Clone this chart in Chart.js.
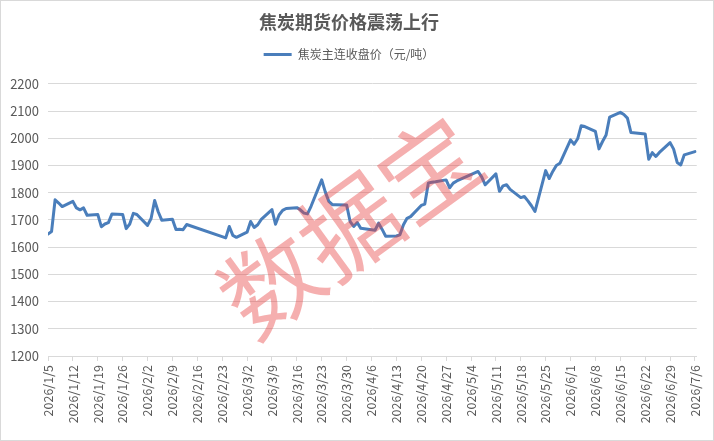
<!DOCTYPE html>
<html>
<head>
<meta charset="utf-8">
<script src="https://cdn.jsdelivr.net/npm/chart.js@4/dist/chart.umd.min.js"></script>
<style>
    html, body { margin: 0; padding: 0; background: #ffffff; }
    #wrap { width: 714px; height: 441px; }
</style>
</head>
<body>
<div id="wrap"><canvas id="CokePriceChart" width="714" height="441"></canvas></div>
<script>
// trading days (2026) and closing price of the coke main contract
var TradeDates = [
    '1/5', '1/6', '1/7', '1/8', '1/9', '1/12', '1/13', '1/14', '1/15', '1/16',
    '1/19', '1/20', '1/21', '1/22', '1/23', '1/26', '1/27', '1/28', '1/29', '1/30',
    '2/2', '2/3', '2/4', '2/5', '2/6', '2/9', '2/10', '2/11', '2/12', '2/13',
    '2/24', '2/25', '2/26', '2/27',
    '3/2', '3/3', '3/4', '3/5', '3/6', '3/9', '3/10', '3/11', '3/12', '3/13',
    '3/16', '3/17', '3/18', '3/19', '3/20', '3/23', '3/24', '3/25', '3/26', '3/27',
    '3/30', '3/31', '4/1', '4/2', '4/3',
    '4/7', '4/8', '4/9', '4/10', '4/13', '4/14', '4/15', '4/16', '4/17',
    '4/20', '4/21', '4/22', '4/23', '4/24', '4/27', '4/28', '4/29', '4/30',
    '5/6', '5/7', '5/8', '5/11', '5/12', '5/13', '5/14', '5/15',
    '5/18', '5/19', '5/20', '5/21', '5/22', '5/25', '5/26', '5/27', '5/28', '5/29',
    '6/1', '6/2', '6/3', '6/4', '6/5', '6/8', '6/9', '6/10', '6/11', '6/12',
    '6/15', '6/16', '6/17', '6/18', '6/22', '6/23', '6/24', '6/25', '6/26',
    '6/29', '6/30', '7/1', '7/2', '7/3', '7/6'
];
var ClosePrices = [
    1648, 1657, 1774, 1762, 1749, 1768, 1744, 1737, 1744, 1717,
    1720, 1675, 1685, 1690, 1722, 1720, 1668, 1685, 1724, 1720,
    1680, 1705, 1771, 1730, 1699, 1702, 1665, 1666, 1664, 1683,
    1634, 1676, 1643, 1636,
    1655, 1694, 1672, 1682, 1702, 1738, 1684, 1718, 1735, 1742,
    1745, 1737, 1725, 1722, 1750, 1847, 1803, 1768, 1756, 1756,
    1755, 1694, 1676, 1690, 1669,
    1662, 1688, 1665, 1640, 1641, 1645, 1682, 1706, 1712,
    1753, 1758, 1836, 1838, 1840, 1847, 1818, 1835, 1843,
    1878, 1858, 1829, 1869, 1805, 1825, 1829, 1812,
    1782, 1786, 1770, 1752, 1731, 1881, 1852, 1878, 1900, 1908,
    1994, 1978, 1998, 2046, 2043, 2025, 1961, 1988, 2012, 2078,
    2095, 2087, 2074, 2021, 2016, 1923, 1947, 1933, 1948,
    1984, 1960, 1911, 1902, 1939, 1951
];
var XTickLabels = [
    '2026/1/5', '2026/1/12', '2026/1/19', '2026/1/26', '2026/2/2', '2026/2/9', '2026/2/16',
    '2026/2/23', '2026/3/2', '2026/3/9', '2026/3/16', '2026/3/23', '2026/3/30', '2026/4/6',
    '2026/4/13', '2026/4/20', '2026/4/27', '2026/5/4', '2026/5/11', '2026/5/18', '2026/5/25',
    '2026/6/1', '2026/6/8', '2026/6/15', '2026/6/22', '2026/6/29', '2026/7/6'
];
var YTicks = [1200, 1300, 1400, 1500, 1600, 1700, 1800, 1900, 2000, 2100, 2200];

var StartDay = Date.UTC(2026, 0, 5);
function DayOffset(md) {
    var p = md.split('/');
    return (Date.UTC(2026, parseInt(p[0]) - 1, parseInt(p[1])) - StartDay) / 86400000;
}
var Points = TradeDates.map(function (d, i) {
    return { x: DayOffset(d), y: ClosePrices[i] };
});

var FontFamily = '"Noto Sans CJK SC", "Noto Sans", sans-serif';
var TextColor = '#595959';
var GridColor = '#d9d9d9';

// white background, outer frame and the red watermark
var FramePlugin = {
    id: 'frame',
    beforeDraw: function (chart) {
        var ctx = chart.ctx;
        ctx.save();
        ctx.fillStyle = '#ffffff';
        ctx.fillRect(0, 0, chart.width, chart.height);
        ctx.restore();
    },
    afterDraw: function (chart) {
        var ctx = chart.ctx;
        ctx.save();
        ctx.translate(350, 226);
        ctx.rotate(-36 * Math.PI / 180);
        ctx.font = '400 98px ' + FontFamily;
        ctx.fillStyle = 'rgba(232, 64, 64, 0.42)';
        ctx.textAlign = 'center';
        ctx.textBaseline = 'middle';
        ctx.fillText('数据宝', 0, 0);
        ctx.restore();

        ctx.save();
        ctx.strokeStyle = GridColor;
        ctx.lineWidth = 1;
        ctx.strokeRect(0.5, 0.5, chart.width - 1, chart.height - 1);
        ctx.restore();
    }
};

var CokeChart = document.getElementById('CokePriceChart').getContext('2d');
new Chart(CokeChart, {
    type: 'line',
    data: {
        datasets: [
            {
                label: '焦炭主连收盘价（元/吨）',
                data: Points,
                borderColor: '#4a7ebb',
                backgroundColor: '#4a7ebb',
                borderWidth: 3,
                borderJoinStyle: 'round',
                borderCapStyle: 'round',
                pointRadius: 0,
                tension: 0
            }
        ]
    },
    options: {
        responsive: false,
        animation: false,
        layout: {
            padding: { left: 0, right: 16, top: 0, bottom: 0 }
        },
        plugins: {
            title: {
                display: true,
                text: '焦炭期货价格震荡上行',
                color: TextColor,
                font: { family: FontFamily, size: 18, weight: 'bold' },
                padding: { top: 11, bottom: 6 }
            },
            legend: {
                position: 'top',
                weight: 1800,
                labels: {
                    usePointStyle: true,
                    pointStyle: 'line',
                    pointStyleWidth: 28,
                    color: TextColor,
                    font: { family: FontFamily, size: 12 },
                    padding: 10
                }
            },
            subtitle: {
                // empty spacer between legend and plot
                display: true,
                text: '',
                weight: 500,
                font: { size: 1 },
                padding: { top: 0, bottom: 12 }
            },
            tooltip: { enabled: false }
        },
        scales: {
            x: {
                type: 'linear',
                min: 0,
                max: 182.5,
                grid: {
                    drawOnChartArea: false,
                    drawTicks: true,
                    tickLength: 5,
                    color: GridColor
                },
                border: { color: GridColor },
                ticks: {
                    stepSize: 7,
                    autoSkip: false,
                    maxTicksLimit: 100,
                    includeBounds: false,
                    minRotation: 90,
                    maxRotation: 90,
                    padding: 4,
                    color: TextColor,
                    font: { family: FontFamily, size: 12.5 },
                    callback: function (value) {
                        return XTickLabels[Math.round(value / 7)];
                    }
                },
                afterFit: function (scale) { scale.height = 85; }
            },
            y: {
                min: YTicks[0],
                max: YTicks[YTicks.length - 1],
                grid: { color: GridColor, drawTicks: false },
                border: { display: false },
                ticks: {
                    stepSize: 100,
                    padding: 9,
                    color: TextColor,
                    font: { family: FontFamily, size: 13 },
                    callback: function (value) { return String(value); }
                },
                afterFit: function (scale) { scale.width = 48; }
            }
        }
    },
    plugins: [FramePlugin]
});
</script>
</body>
</html>
